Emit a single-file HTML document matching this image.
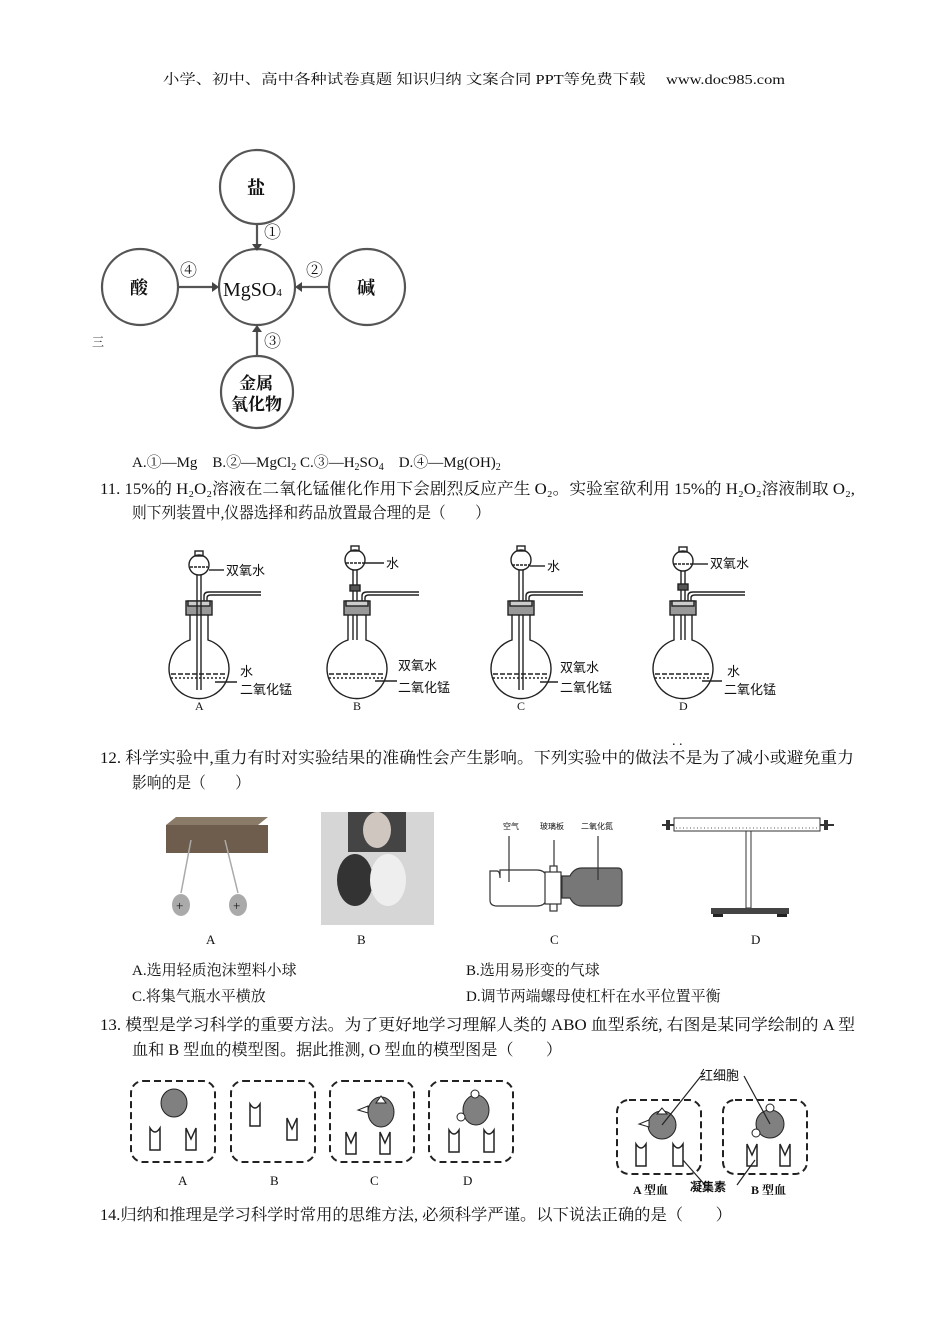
<!DOCTYPE html>
<html><head><meta charset="utf-8"><style>
html,body{margin:0;padding:0;background:#fff}
svg{display:block}
text{font-family:"Liberation Serif","Noto Serif CJK SC",serif;fill:#111}
.s{font-family:"Liberation Sans","Noto Sans CJK SC",sans-serif}
</style></head><body>
<svg width="950" height="1344" viewBox="0 0 950 1344" xmlns="http://www.w3.org/2000/svg">
<text x="163" y="84" font-size="14" textLength="622" lengthAdjust="spacingAndGlyphs">小学、初中、高中各种试卷真题 知识归纳 文案合同 PPT等免费下载　 www.doc985.com</text>

<!-- Q10 diagram -->
<g stroke="#555" stroke-width="2.2" fill="none">
<circle cx="257" cy="187" r="37"/>
<circle cx="257" cy="287" r="38"/>
<circle cx="140" cy="287" r="38"/>
<circle cx="367" cy="287" r="38"/>
<circle cx="257" cy="392" r="36"/>
<line x1="257" y1="224" x2="257" y2="246"/>
<line x1="178" y1="287" x2="214" y2="287"/>
<line x1="329" y1="287" x2="300" y2="287"/>
<line x1="257" y1="356" x2="257" y2="330"/>
</g>
<g fill="#444">
<polygon points="252,244 262,244 257,251"/>
<polygon points="212,282 212,292 219,287"/>
<polygon points="302,282 302,292 295,287"/>
<polygon points="252,332 262,332 257,325"/>
</g>
<g font-size="19" fill="#444" font-weight="bold">
<text x="247" y="194" font-size="18">盐</text>
<text x="130" y="294" font-size="18">酸</text>
<text x="357" y="294" font-size="18">碱</text>
<text x="223" y="296" font-size="20" font-weight="normal" fill="#555">MgSO<tspan font-size="11">4</tspan></text>
<text x="239" y="389" font-size="17">金属</text>
<text x="231" y="410" font-size="17">氧化物</text>
<text x="264" y="238" font-size="17" font-weight="normal">①</text>
<text x="306" y="276" font-size="17" font-weight="normal">②</text>
<text x="264" y="347" font-size="17" font-weight="normal">③</text>
<text x="180" y="276" font-size="17" font-weight="normal">④</text>
</g>
<text x="92" y="346" font-size="12" fill="#333">三</text>

<text x="132" y="467" font-size="15">A.①—Mg　B.②—MgCl<tspan font-size="10" dy="3">2</tspan><tspan dy="-3"> C.③—H</tspan><tspan font-size="10" dy="3">2</tspan><tspan dy="-3">SO</tspan><tspan font-size="10" dy="3">4</tspan><tspan dy="-3">　D.④—Mg(OH)</tspan><tspan font-size="10" dy="3">2</tspan></text>
<text x="100" y="494" font-size="16" textLength="755" lengthAdjust="spacingAndGlyphs">11. 15%的 H₂O₂溶液在二氧化锰催化作用下会剧烈反应产生 O₂。实验室欲利用 15%的 H₂O₂溶液制取 O₂,</text>
<text x="132" y="518" font-size="16" textLength="358" lengthAdjust="spacingAndGlyphs">则下列装置中,仪器选择和药品放置最合理的是（　　）</text>

<!-- apparatus -->
<defs>
<g id="flask" stroke="#222" stroke-width="1.4" fill="none">
<path d="M-9,615 L-9,640 A30,30 0 1 0 9,640 L9,615"/>
<rect x="-13" y="601" width="26" height="14" fill="#999"/>
<rect x="-11" y="601" width="22" height="5" fill="#ccc"/>
<path d="M5,601 L5,596 Q5,592 10,592 L62,592 M8,601 L8,598 Q8,595 12,595 L62,595"/>
<line x1="-28" y1="674" x2="26" y2="674" stroke-dasharray="5,2"/>
<line x1="-28" y1="678" x2="28" y2="678" stroke-dasharray="2,2"/>
</g>
</defs>
<g id="appA">
<use href="#flask" x="199"/>
<g stroke="#222" stroke-width="1.4" fill="none">
<circle cx="199" cy="565" r="10"/><rect x="195" y="551" width="8" height="5"/>
<line x1="197" y1="575" x2="197" y2="690"/><line x1="201" y1="575" x2="201" y2="690"/>
<line x1="190" y1="567" x2="208" y2="567" stroke-dasharray="3,1"/>
<line x1="209" y1="570" x2="224" y2="570"/>
<line x1="215" y1="682" x2="237" y2="682"/>
</g>
<text class="s" x="226" y="575" font-size="13">双氧水</text>
<text class="s" x="240" y="676" font-size="13">水</text>
<text class="s" x="240" y="694" font-size="13">二氧化锰</text>
<text x="195" y="710" font-size="12">A</text>
</g>
<g stroke="#222" stroke-width="1.4" fill="none">
<!-- B -->
<circle cx="355" cy="560" r="10"/><rect x="351" y="546" width="8" height="5"/>
<line x1="346" y1="563" x2="364" y2="563" stroke-dasharray="3,1"/>
<line x1="353" y1="570" x2="353" y2="640"/><line x1="357" y1="570" x2="357" y2="640"/>
<rect x="350" y="585" width="10" height="6" fill="#555"/>
<line x1="364" y1="563" x2="384" y2="563"/>
<line x1="375" y1="681" x2="397" y2="681"/>
<!-- C -->
<circle cx="521" cy="560" r="10"/><rect x="517" y="546" width="8" height="5"/>
<line x1="512" y1="565" x2="530" y2="565" stroke-dasharray="3,1"/>
<line x1="519" y1="570" x2="519" y2="690"/><line x1="523" y1="570" x2="523" y2="690"/>
<line x1="530" y1="566" x2="545" y2="566"/>
<line x1="540" y1="682" x2="558" y2="682"/>
<!-- D -->
<circle cx="683" cy="561" r="10"/><rect x="679" y="547" width="8" height="5"/>
<line x1="674" y1="564" x2="692" y2="564" stroke-dasharray="3,1"/>
<line x1="681" y1="571" x2="681" y2="640"/><line x1="685" y1="571" x2="685" y2="640"/>
<rect x="678" y="584" width="10" height="6" fill="#555"/>
<line x1="692" y1="564" x2="708" y2="564"/>
<line x1="702" y1="681" x2="722" y2="681"/>
</g>
<use href="#flask" x="357"/>
<use href="#flask" x="521"/>
<use href="#flask" x="683"/>
<g class="s" font-size="13">
<text class="s" x="386" y="568">水</text>
<text class="s" x="398" y="670">双氧水</text>
<text class="s" x="398" y="692">二氧化锰</text>
<text x="353" y="710" font-family="Liberation Serif" font-size="12">B</text>
<text class="s" x="547" y="571">水</text>
<text class="s" x="560" y="672">双氧水</text>
<text class="s" x="560" y="692">二氧化锰</text>
<text x="517" y="710" font-family="Liberation Serif" font-size="12">C</text>
<text class="s" x="710" y="568">双氧水</text>
<text class="s" x="727" y="676">水</text>
<text class="s" x="724" y="694">二氧化锰</text>
<text x="679" y="710" font-family="Liberation Serif" font-size="12">D</text>
</g>
<text x="672" y="745" font-size="14">. .</text>

<text x="100" y="763" font-size="16" textLength="754" lengthAdjust="spacingAndGlyphs">12. 科学实验中,重力有时对实验结果的准确性会产生影响。下列实验中的做法不是为了减小或避免重力</text>
<text x="132" y="788" font-size="16" textLength="118" lengthAdjust="spacingAndGlyphs">影响的是（　　）</text>

<!-- Q12 images -->
<g>
<polygon points="166,825 258,825 268,817 176,817" fill="#8a7a68"/>
<rect x="166" y="825" width="102" height="28" fill="#6e5d4c"/>
<line x1="191" y1="840" x2="181" y2="893" stroke="#aaa" stroke-width="1.5"/>
<line x1="225" y1="840" x2="238" y2="893" stroke="#aaa" stroke-width="1.5"/>
<ellipse cx="181" cy="905" rx="9" ry="11" fill="#aaa"/>
<ellipse cx="238" cy="905" rx="9" ry="11" fill="#aaa"/>
<text x="176" y="910" font-size="13">+</text><text x="233" y="910" font-size="13">+</text>
<rect x="321" y="812" width="113" height="113" fill="#d6d6d6"/>
<rect x="348" y="812" width="58" height="40" fill="#444"/>
<ellipse cx="377" cy="830" rx="14" ry="18" fill="#cfc6c0"/>
<ellipse cx="355" cy="880" rx="18" ry="26" fill="#333"/>
<ellipse cx="388" cy="880" rx="18" ry="26" fill="#eee"/>
<g stroke="#333" stroke-width="1.2" fill="#fff">
<path d="M490,871 L497,871 Q500,871 500,878 L500,870 L537,870 Q544,870 547,876 L547,900 Q544,906 537,906 L497,906 Q490,906 490,900 Z" fill="#fff"/>
<rect x="550" y="866" width="7" height="45"/>
<rect x="545" y="872" width="16" height="32"/>
<path d="M562,876 L570,876 Q574,868 582,868 L618,868 Q622,868 622,873 L622,902 Q622,906 618,906 L582,906 Q574,906 570,898 L562,898Z" fill="#777"/>
<line x1="554" y1="840" x2="554" y2="866"/>
<line x1="509" y1="836" x2="509" y2="882"/>
<line x1="598" y1="836" x2="598" y2="880"/>
</g>
<text class="s" x="503" y="829" font-size="8">空气</text>
<text class="s" x="540" y="829" font-size="8">玻璃板</text>
<text class="s" x="581" y="829" font-size="8">二氧化氮</text>
<rect x="674" y="818" width="146" height="13" fill="#fff" stroke="#333"/>
<line x1="662" y1="825" x2="674" y2="825" stroke="#333" stroke-width="2"/>
<line x1="820" y1="825" x2="834" y2="825" stroke="#333" stroke-width="2"/>
<rect x="666" y="820" width="4" height="10" fill="#333"/><rect x="824" y="820" width="4" height="10" fill="#333"/>
<line x1="676" y1="828" x2="818" y2="828" stroke="#555" stroke-dasharray="1,2.5"/>
<rect x="746" y="831" width="5" height="77" fill="#fff" stroke="#333"/>
<rect x="711" y="908" width="78" height="6" fill="#444"/>
<rect x="713" y="914" width="10" height="3" fill="#222"/><rect x="777" y="914" width="10" height="3" fill="#222"/>
</g>
<g font-size="13">
<text x="206" y="944">A</text><text x="357" y="944">B</text><text x="550" y="944">C</text><text x="751" y="944">D</text>
</g>
<text x="132" y="975" font-size="15">A.选用轻质泡沫塑料小球</text>
<text x="466" y="975" font-size="15">B.选用易形变的气球</text>
<text x="132" y="1001" font-size="15">C.将集气瓶水平横放</text>
<text x="466" y="1001" font-size="15">D.调节两端螺母使杠杆在水平位置平衡</text>
<text x="100" y="1030" font-size="16" textLength="755" lengthAdjust="spacingAndGlyphs">13. 模型是学习科学的重要方法。为了更好地学习理解人类的 ABO 血型系统, 右图是某同学绘制的 A 型</text>
<text x="132" y="1055" font-size="16" textLength="430" lengthAdjust="spacingAndGlyphs">血和 B 型血的模型图。据此推测, O 型血的模型图是（　　）</text>

<!-- Q13 boxes -->
<g stroke="#222" stroke-width="2" fill="none" stroke-dasharray="7,4">
<rect x="131" y="1081" width="84" height="81" rx="12"/>
<rect x="231" y="1081" width="84" height="81" rx="12"/>
<rect x="330" y="1081" width="84" height="81" rx="12"/>
<rect x="429" y="1081" width="84" height="81" rx="12"/>
<rect x="617" y="1100" width="84" height="74" rx="12"/>
<rect x="723" y="1100" width="84" height="74" rx="12"/>
</g>
<defs>
<path id="cup" d="M0,0 Q5,8 10,0 L10,22 L0,22 Z" fill="#fff" stroke="#222" stroke-width="1.5"/>
<path id="vcup" d="M0,0 L5,11 L10,0 L10,22 L0,22 Z" fill="#fff" stroke="#222" stroke-width="1.5"/>
</defs>
<g fill="#808080" stroke="#222" stroke-width="1">
<ellipse cx="174" cy="1103" rx="13" ry="14"/>
<ellipse cx="381" cy="1112" rx="13" ry="15"/>
<ellipse cx="476" cy="1110" rx="13" ry="15"/>
<ellipse cx="662" cy="1125" rx="14" ry="14"/>
<ellipse cx="770" cy="1124" rx="14" ry="14"/>
</g>
<g fill="#fff" stroke="#222" stroke-width="1">
<polygon points="381,1096 376,1103 386,1103"/>
<polygon points="368,1106 358,1110 368,1113"/>
<circle cx="475" cy="1094" r="4"/><circle cx="461" cy="1117" r="4"/>
<polygon points="662,1108 657,1114 667,1114"/>
<polygon points="649,1120 639,1124 649,1127"/>
<circle cx="770" cy="1108" r="4"/><circle cx="756" cy="1133" r="4"/>
</g>
<use href="#cup" x="150" y="1128"/><use href="#vcup" x="186" y="1128"/>
<use href="#cup" x="250" y="1104"/><use href="#vcup" x="287" y="1118"/>
<use href="#vcup" x="346" y="1132"/><use href="#vcup" x="380" y="1132"/>
<use href="#cup" x="449" y="1130"/><use href="#cup" x="484" y="1130"/>
<use href="#cup" x="636" y="1144"/><use href="#cup" x="673" y="1144"/>
<use href="#vcup" x="747" y="1144"/><use href="#vcup" x="780" y="1144"/>
<g stroke="#222" stroke-width="1.2">
<line x1="662" y1="1125" x2="701" y2="1076"/>
<line x1="770" y1="1124" x2="744" y2="1076"/>
<line x1="683" y1="1160" x2="705" y2="1185"/>
<line x1="755" y1="1160" x2="737" y2="1185"/>
</g>
<g font-size="13">
<text x="178" y="1185">A</text><text x="270" y="1185">B</text><text x="370" y="1185">C</text><text x="463" y="1185">D</text>
</g>
<text class="s" x="700" y="1080" font-size="13">红细胞</text>
<text class="s" x="690" y="1191" font-size="12" font-weight="bold">凝集素</text>
<text x="633" y="1194" font-size="12" font-weight="bold">A 型血</text>
<text x="751" y="1194" font-size="12" font-weight="bold">B 型血</text>
<text x="100" y="1220" font-size="16" textLength="632" lengthAdjust="spacingAndGlyphs">14.归纳和推理是学习科学时常用的思维方法, 必须科学严谨。以下说法正确的是（　　）</text>
</svg>
</body></html>
